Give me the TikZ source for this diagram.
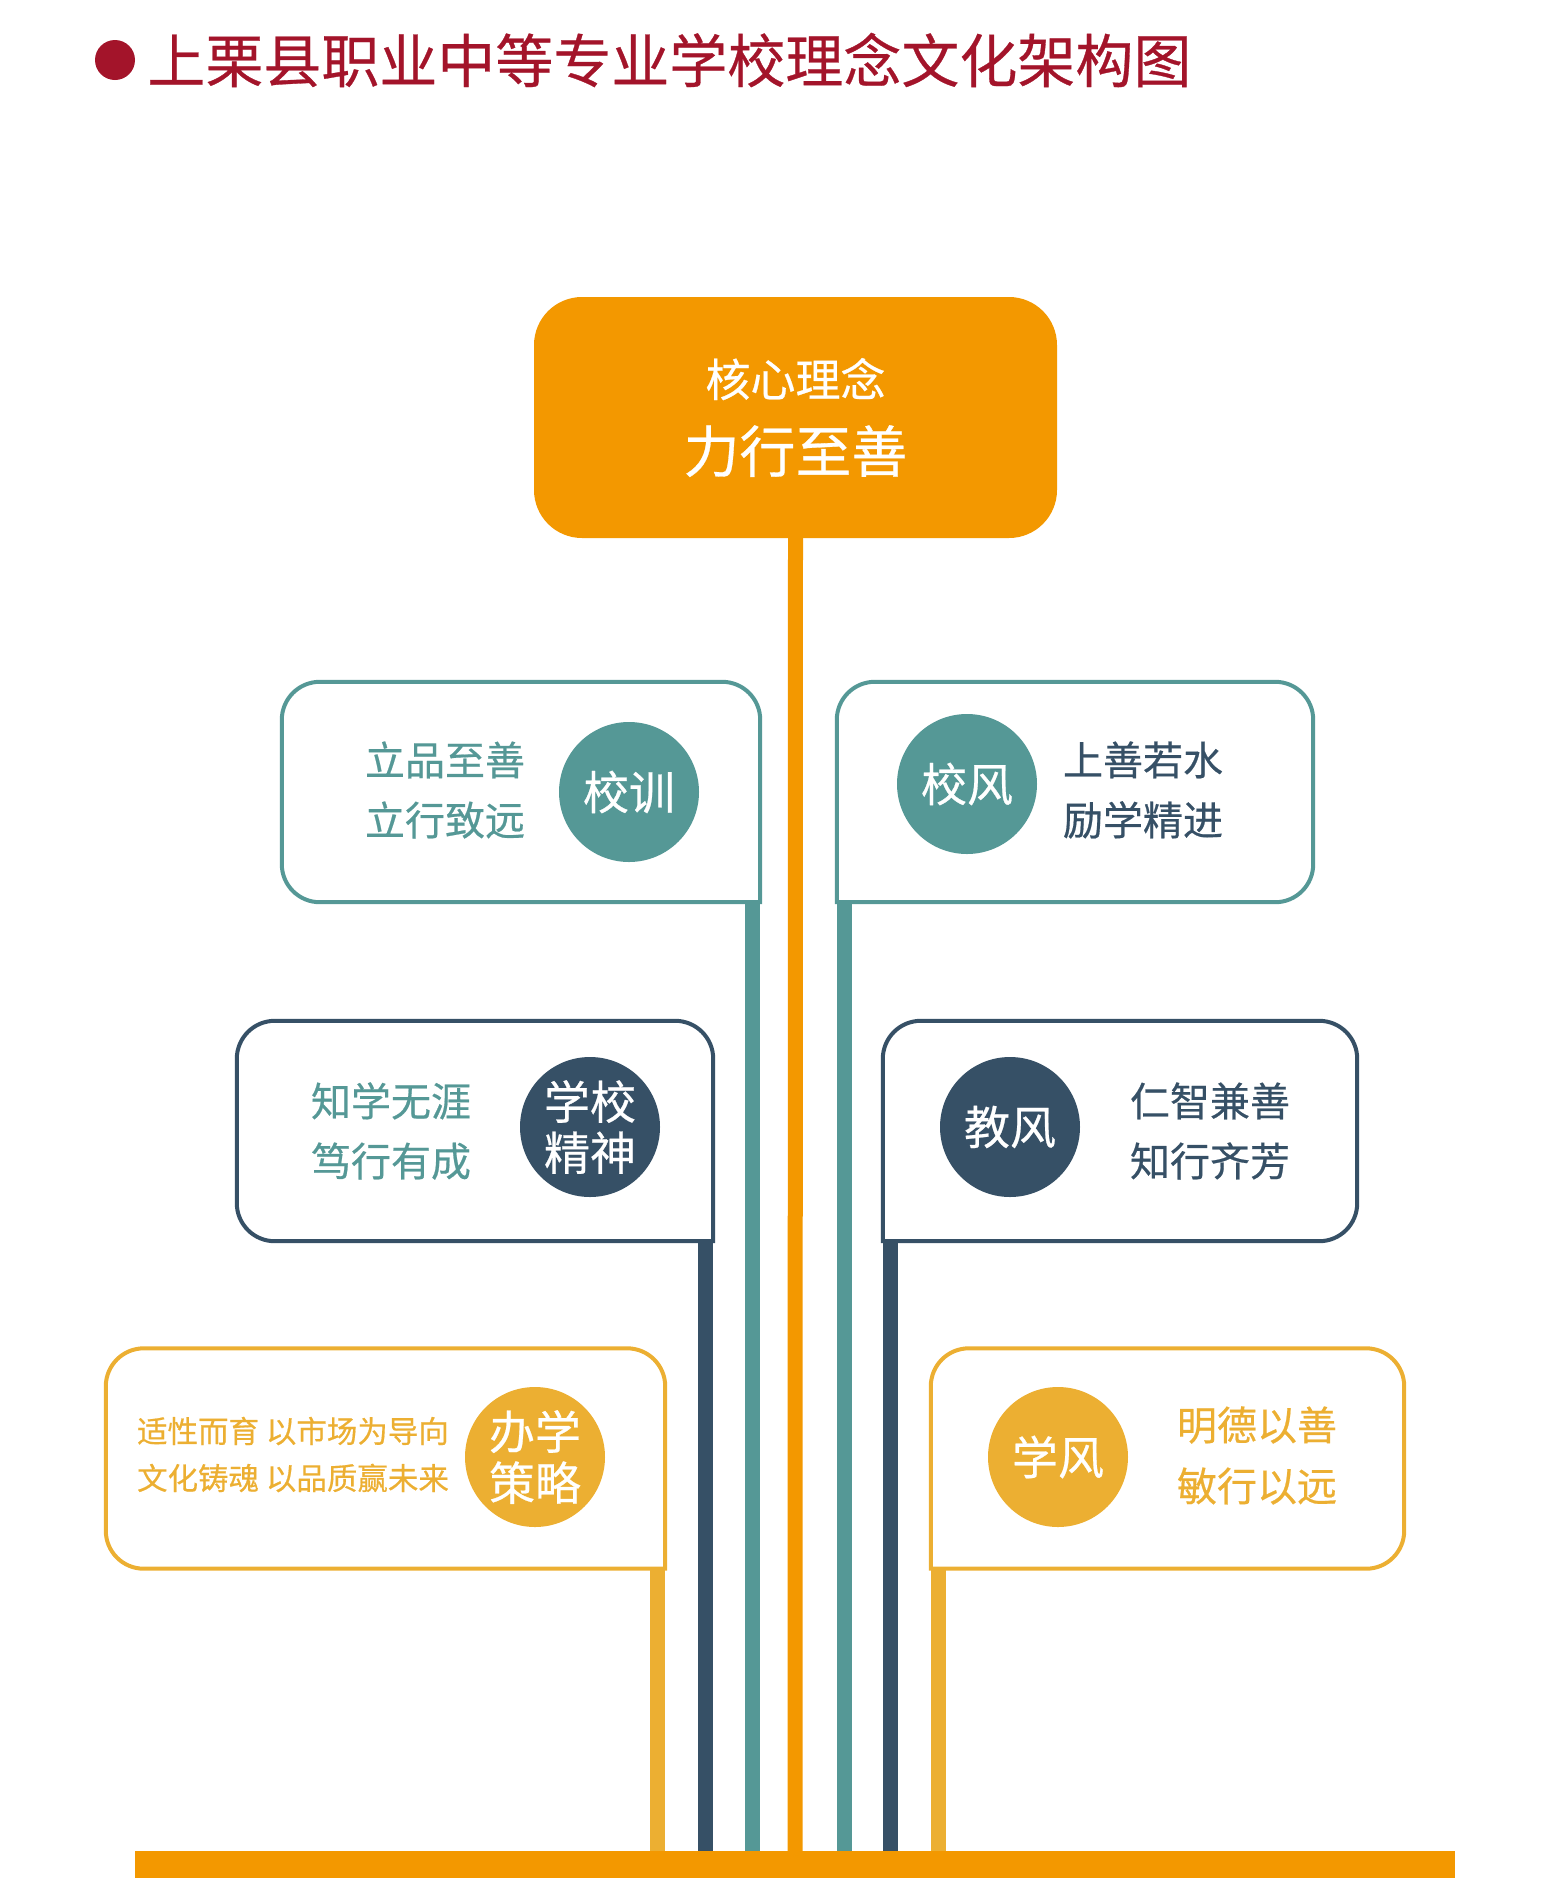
\documentclass[tikz,border=0pt]{standalone}
\usepackage{fontspec}
\setmainfont{Noto Sans CJK SC}[FakeBold=0.5]
\usetikzlibrary{positioning}
\definecolor{lzorange}{RGB}{243,152,0}
\definecolor{lzteal}{RGB}{85,152,150}
\definecolor{lzslate}{RGB}{54,80,102}
\definecolor{lzyellow}{RGB}{236,175,50}
\definecolor{lzred}{RGB}{163,20,42}

\begin{document}
\begin{tikzpicture}[x=1pt,y=-1pt,
  panel/.style={minimum width=#1,minimum height=220pt,inner sep=0pt},
  frame/.style={#1,line width=4pt,line cap=rect,rounded corners=38pt},
  badge/.style={circle,fill=#1,text=white,minimum size=140pt,inner sep=0pt,
                align=center,font=\fontsize{46}{51}\selectfont},
  motto/.style={text=#1,align=center,font=\fontsize{40}{60}\selectfont},
  stem/.style={#1,line width=15pt}]
  \useasboundingbox (0,0) rectangle (1541,1891);

  % title
  \node[circle,fill=lzred,minimum size=40pt,inner sep=0pt] (dot) at (115,60) {};
  \node[right=12pt of dot,text=lzred,font=\fontsize{58}{60}\selectfont,inner sep=0pt] (title)
        {上栗县职业中等专业学校理念文化架构图};

  % core
  \node[fill=lzorange,rounded corners=48pt,minimum width=523pt,minimum height=241pt,
        text=white,align=center,inner sep=0pt] (core) at (795.5,417.5)
        {{\fontsize{45}{50}\selectfont 核心理念}\\[24pt]{\fontsize{56}{60}\selectfont 力行至善}};
  \node[fill=lzorange,minimum width=1320pt,minimum height=27pt,inner sep=0pt] (base) at (795,1864.5) {};
  \draw[stem=lzorange] (core.south) -- (base.north);

  % row 1
  \node[panel=478pt] (xunbox) at (521,792) {};
  \node[panel=476pt] (fengbox) at (1075,792) {};
  \draw[stem=lzteal] ([xshift=-7.5pt]xunbox.south east) -- ([xshift=-7.5pt]xunbox.south east |- base.north);
  \draw[stem=lzteal] ([xshift=7.5pt]fengbox.south west) -- ([xshift=7.5pt]fengbox.south west |- base.north);
  \draw[frame=lzteal] (xunbox.south east) -- (xunbox.north east) -- (xunbox.north west)
        -- (xunbox.south west) -- (xunbox.south east);
  \draw[frame=lzteal] (fengbox.south west) -- (fengbox.south east) -- (fengbox.north east)
        -- (fengbox.north west) -- (fengbox.south west);
  \node[motto=lzteal] (xuntext) at (445,790) {立品至善\\立行致远};
  \node[badge=lzteal] (xun) at (629,792) {校训};
  \node[badge=lzteal] (feng) at (967,784) {校风};
  \node[motto=lzslate] (fengtext) at (1143,790) {上善若水\\励学精进};

  % row 2
  \node[panel=476pt] (jingbox) at (475,1131) {};
  \node[panel=474pt] (jiaobox) at (1120,1131) {};
  \draw[stem=lzslate] ([xshift=-7.5pt]jingbox.south east) -- ([xshift=-7.5pt]jingbox.south east |- base.north);
  \draw[stem=lzslate] ([xshift=7.5pt]jiaobox.south west) -- ([xshift=7.5pt]jiaobox.south west |- base.north);
  \draw[frame=lzslate] (jingbox.south east) -- (jingbox.north east) -- (jingbox.north west)
        -- (jingbox.south west) -- (jingbox.south east);
  \draw[frame=lzslate] (jiaobox.south west) -- (jiaobox.south east) -- (jiaobox.north east)
        -- (jiaobox.north west) -- (jiaobox.south west);
  \node[motto=lzteal] (jingtext) at (391,1131) {知学无涯\\笃行有成};
  \node[badge=lzslate] (jing) at (590,1127) {学校\\精神};
  \node[badge=lzslate] (jiao) at (1010,1127) {教风};
  \node[motto=lzslate] (jiaotext) at (1210,1131) {仁智兼善\\知行齐芳};

  % row 3
  \node[panel=559pt] (celuebox) at (385.5,1458.5) {};
  \node[panel=473pt] (xuebox) at (1167.5,1458.5) {};
  \draw[stem=lzyellow] ([xshift=-7.5pt]celuebox.south east) -- ([xshift=-7.5pt]celuebox.south east |- base.north);
  \draw[stem=lzyellow] ([xshift=7.5pt]xuebox.south west) -- ([xshift=7.5pt]xuebox.south west |- base.north);
  \draw[frame=lzyellow] (celuebox.south east) -- (celuebox.north east) -- (celuebox.north west)
        -- (celuebox.south west) -- (celuebox.south east);
  \draw[frame=lzyellow] (xuebox.south west) -- (xuebox.south east) -- (xuebox.north east)
        -- (xuebox.north west) -- (xuebox.south west);
  \node[text=lzyellow,align=left,font=\fontsize{30.5}{47}\selectfont] (celuetext) at (293,1454.5)
        {适性而育 以市场为导向\\文化铸魂 以品质赢未来};
  \node[badge=lzyellow] (celue) at (535,1457) {办学\\策略};
  \node[badge=lzyellow] (xue) at (1058,1457) {学风};
  \node[motto=lzyellow,font=\fontsize{40}{61}\selectfont] (xuetext) at (1257,1455.5) {明德以善\\敏行以远};
\end{tikzpicture}
\end{document}
